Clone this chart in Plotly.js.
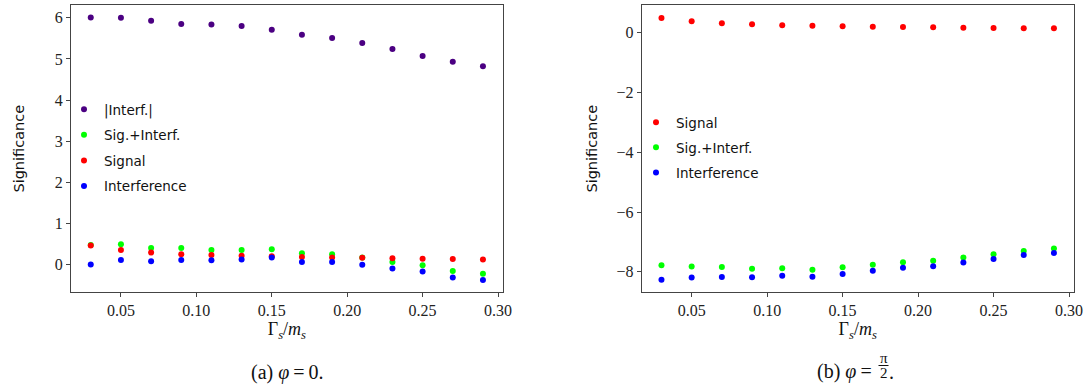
<!DOCTYPE html>
<html><head><meta charset="utf-8">
<script src="https://cdn.plot.ly/plotly-3.0.1.min.js"></script>
<style>html,body{margin:0;padding:0;background:#fff}</style>
</head><body><div id="chart" style="width:1088px;height:391px"></div>
<script>
// Shared x values: Gamma_s / m_s
const gammaOverM = [0.03,0.05,0.07,0.09,0.11,0.13,0.15,0.17,0.19,0.21,0.23,0.25,0.27,0.29];
// (a) phi = 0
const interfAbsA     = [6.01,6.00,5.93,5.85,5.84,5.80,5.71,5.59,5.51,5.39,5.24,5.07,4.93,4.82];
const sigPlusInterfA = [0.47,0.49,0.40,0.40,0.35,0.35,0.37,0.27,0.25,0.17,0.06,-0.02,-0.16,-0.23];
const signalA        = [0.46,0.35,0.29,0.25,0.23,0.21,0.20,0.18,0.17,0.16,0.15,0.14,0.13,0.12];
const interferenceA  = [0.00,0.11,0.08,0.11,0.10,0.12,0.17,0.06,0.06,-0.01,-0.10,-0.17,-0.32,-0.38];
// (b) phi = pi/2
const signalB        = [0.48,0.37,0.31,0.27,0.24,0.22,0.21,0.19,0.18,0.17,0.16,0.15,0.14,0.14];
const sigPlusInterfB = [-7.78,-7.82,-7.84,-7.90,-7.88,-7.93,-7.85,-7.76,-7.68,-7.63,-7.52,-7.41,-7.30,-7.22];
const interferenceB  = [-8.26,-8.19,-8.17,-8.18,-8.13,-8.16,-8.07,-7.96,-7.86,-7.81,-7.69,-7.57,-7.44,-7.37];
const xTicks = [0.05,0.10,0.15,0.20,0.25,0.30];
const yTicksA = [0,1,2,3,4,5,6];
const yTicksB = [-8,-6,-4,-2,0];

const C = {interf:'#4b0082', sum:'#00ff00', sig:'#ff0000', int:'#0000ff'};
function tr(y, name, color, xa, ya, leg){
  return {x: gammaOverM, y: y, name: name, type:'scatter', mode:'markers',
    marker:{color:color, size:6}, xaxis:xa, yaxis:ya, legend:leg, legendgroup:name+xa};
}
const data = [
  tr(interfAbsA, '|Interf.|', C.interf, 'x', 'y', 'legend'),
  tr(sigPlusInterfA, 'Sig.+Interf.', C.sum, 'x', 'y', 'legend'),
  tr(signalA, 'Signal', C.sig, 'x', 'y', 'legend'),
  tr(interferenceA, 'Interference', C.int, 'x', 'y', 'legend'),
  tr(signalB, 'Signal', C.sig, 'x2', 'y2', 'legend2'),
  tr(sigPlusInterfB, 'Sig.+Interf.', C.sum, 'x2', 'y2', 'legend2'),
  tr(interferenceB, 'Interference', C.int, 'x2', 'y2', 'legend2')
];

const tickFont = {family:'Liberation Serif, serif', size:16, color:'#222'};
const titleX = {text:'Γ<sub><i>s</i></sub>/<i>m</i><sub><i>s</i></sub>', font:{family:'Liberation Serif, serif', size:18, color:'#111'}, standoff:0};
function titleY(so){ return {text:'Significance', font:{family:'DejaVu Sans, sans-serif', size:14.5, color:'#111'}, standoff:so}; }
function xax(dom, anchor){
  return {domain:dom, anchor:anchor, range:[0.0169,0.3031], tickvals:xTicks, tickformat:'.2f',
    showline:true, mirror:true, linecolor:'#444', linewidth:1, ticks:'outside', ticklen:4, tickcolor:'#444',
    showgrid:false, zeroline:false, tickfont:tickFont, title:titleX, automargin:false};
}
function yax(dom, anchor, range, tv, so){
  return {domain:dom, anchor:anchor, range:range, tickvals:tv,
    showline:true, mirror:true, linecolor:'#444', linewidth:1, ticks:'outside', ticklen:4, tickcolor:'#444',
    showgrid:false, zeroline:false, tickfont:tickFont, title:titleY(so), automargin:false};
}
const yDom = [1-292.2/391, 1-5.2/391];
const legFont = {family:'DejaVu Sans, sans-serif', size:13.5, color:'#111'};
const capFont = {family:'Liberation Serif, serif', size:20, color:'#111'};
const fracFont = {family:'Liberation Serif, serif', size:15, color:'#111'};
function P(px){return px/1088;}
function Q(py){return 1-py/391;}
const layout = {
  width:1088, height:391, margin:{l:0,r:0,t:0,b:0},
  paper_bgcolor:'#fff', plot_bgcolor:'#fff',
  xaxis: xax([P(71),P(502.7)], 'y'),
  yaxis: yax(yDom, 'x', [-0.676,6.307], yTicksA, 26),
  xaxis2: xax([P(641.7),P(1073.7)], 'y2'),
  yaxis2: yax(yDom, 'x2', [-8.68,0.91], yTicksB, 15),
  showlegend:true,
  legend:{x:P(64), y:Q(94), xanchor:'left', yanchor:'top', bgcolor:'rgba(0,0,0,0)', borderwidth:0,
    font:legFont, traceorder:'grouped', tracegroupgap:5, itemwidth:30},
  legend2:{x:P(636), y:Q(107), xanchor:'left', yanchor:'top', bgcolor:'rgba(0,0,0,0)', borderwidth:0,
    font:legFont, traceorder:'grouped', tracegroupgap:4.5, itemwidth:30},
  annotations:[
    {xref:'paper', yref:'paper', x:P(287), y:Q(372), text:'(a) <i>φ</i>\u2009=\u20090.', showarrow:false, font:capFont, xanchor:'center', yanchor:'middle'},
    {xref:'paper', yref:'paper', x:P(874), y:Q(371), text:'(b) <i>φ</i>\u2009=', showarrow:false, font:capFont, xanchor:'right', yanchor:'middle'},
    {xref:'paper', yref:'paper', x:P(883.5), y:Q(358), text:'π', showarrow:false, font:fracFont, xanchor:'center', yanchor:'middle'},
    {xref:'paper', yref:'paper', x:P(883.5), y:Q(373), text:'2', showarrow:false, font:fracFont, xanchor:'center', yanchor:'middle'},
    {xref:'paper', yref:'paper', x:P(891), y:Q(372), text:'.', showarrow:false, font:capFont, xanchor:'center', yanchor:'middle'}
  ],
  shapes:[
    {type:'line', xref:'paper', yref:'paper', x0:P(878.5), x1:P(888.5), y0:Q(365.5), y1:Q(365.5), line:{color:'#111', width:1}}
  ]
};
Plotly.newPlot('chart', data, layout, {displayModeBar:false, staticPlot:true});
</script>
</body></html>
